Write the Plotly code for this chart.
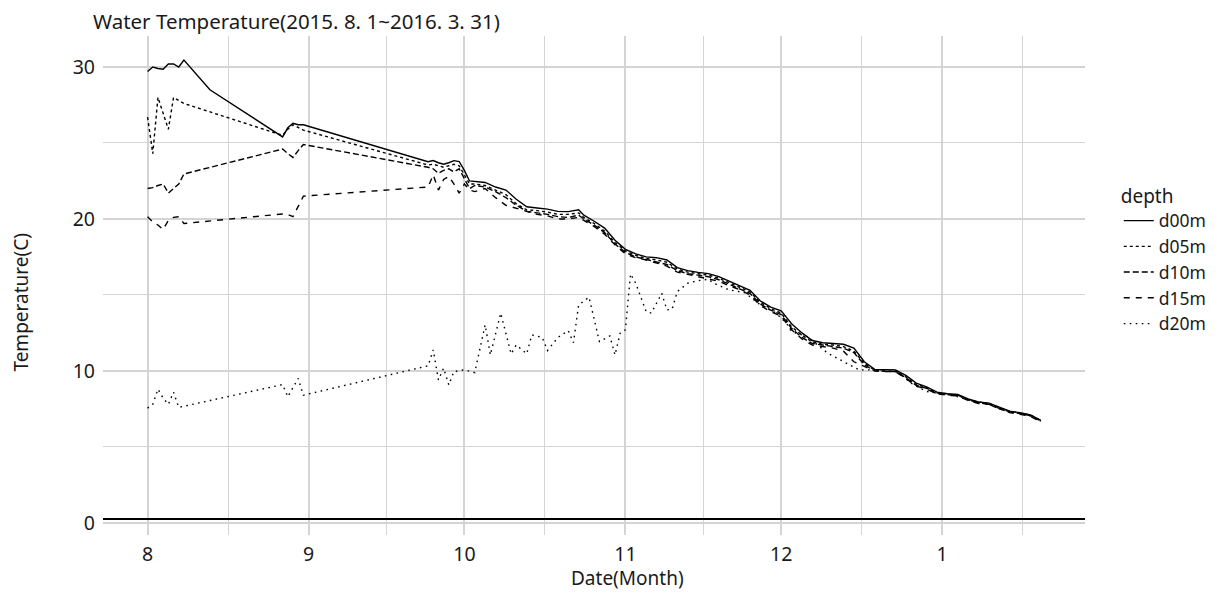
import plotly.graph_objects as go

# ---------------- data ----------------
dates_main = [
    "2015-08-01", "2015-08-02", "2015-08-03", "2015-08-04", "2015-08-05", "2015-08-06", "2015-08-07", "2015-08-08",
    "2015-08-13",
    "2015-08-27", "2015-08-28", "2015-08-29", "2015-08-30", "2015-08-31",
    "2015-09-24", "2015-09-25", "2015-09-26", "2015-09-27", "2015-09-28", "2015-09-29", "2015-09-30",
    "2015-10-01", "2015-10-02", "2015-10-03", "2015-10-05", "2015-10-07", "2015-10-09", "2015-10-11", "2015-10-13",
    "2015-10-15", "2015-10-17", "2015-10-19", "2015-10-21", "2015-10-23", "2015-10-24", "2015-10-26", "2015-10-28",
    "2015-10-30",
    "2015-11-01", "2015-11-03", "2015-11-05", "2015-11-07", "2015-11-09", "2015-11-11", "2015-11-13", "2015-11-15",
    "2015-11-17", "2015-11-19", "2015-11-21", "2015-11-23", "2015-11-25", "2015-11-27", "2015-11-29",
    "2015-12-01", "2015-12-03", "2015-12-05", "2015-12-07", "2015-12-09", "2015-12-11", "2015-12-13", "2015-12-15",
    "2015-12-17", "2015-12-19", "2015-12-21", "2015-12-23", "2015-12-25", "2015-12-27", "2015-12-29", "2015-12-31",
    "2016-01-02", "2016-01-04", "2016-01-06", "2016-01-08", "2016-01-10", "2016-01-12", "2016-01-14", "2016-01-16",
    "2016-01-18", "2016-01-20",
]

d00m = [
    29.7, 30.0, 29.9, 29.85, 30.2, 30.2, 30.0, 30.45,
    28.5,
    25.4, 26.0, 26.3, 26.2, 26.2,
    23.77, 23.84, 23.7, 23.6, 23.7, 23.84, 23.78,
    23.2, 22.5, 22.45, 22.4, 22.1, 21.9, 21.3, 20.8,
    20.72, 20.65, 20.5, 20.48, 20.6, 20.25, 19.85, 19.4,
    18.6,
    18.0, 17.7, 17.5, 17.45, 17.3, 16.8, 16.6, 16.48,
    16.4, 16.2, 15.9, 15.6, 15.3, 14.6, 14.2,
    13.95, 13.1, 12.5, 12.0, 11.85, 11.8, 11.75, 11.5,
    10.6, 10.1, 10.07, 10.07, 9.7, 9.2, 8.95, 8.6,
    8.5, 8.45, 8.15, 7.95, 7.88, 7.6, 7.35, 7.25,
    7.1, 6.75,
]

d05m = [
    26.7, 24.3, 28.0, 27.0, 25.9, 28.0, 27.8, 27.6,
    None,
    25.5, 25.9, 26.2, 26.0, 25.85,
    23.55, 23.6, 23.5, 23.4, 23.5, 23.6, 23.5,
    22.9, 22.3, 22.3, 22.2, 21.9, 21.6, 21.0, 20.6,
    20.55, 20.45, 20.3, 20.3, 20.4, 20.1, 19.7, 19.2,
    18.45,
    17.9, 17.6, 17.4, 17.3, 17.15, 16.7, 16.5, 16.4,
    16.3, 16.1, 15.8, 15.5, 15.2, 14.5, 14.1,
    13.8, 12.9, 12.35, 11.9, 11.75, 11.7, 11.6, 11.3,
    10.5, 10.05, 10.0, 10.0, 9.6, 9.1, 8.9, 8.55,
    8.45, 8.4, 8.1, 7.9, 7.85, 7.55, 7.3, 7.2,
    7.05, 6.7,
]

d10m = [
    22.0, 22.06, 22.2, 22.3, 21.7, 22.0, 22.3, 22.96,
    None,
    24.6, 24.3, 24.05, 24.5, 24.9,
    23.4, 23.3, 23.0, 23.2, 23.3, 23.1, 23.3,
    22.6, 22.0, 22.2, 22.1, 21.8, 21.4, 20.9, 20.5,
    20.4, 20.3, 20.15, 20.1, 20.25, 20.0, 19.6, 19.1,
    18.35,
    17.8, 17.5, 17.35, 17.2, 17.0, 16.6, 16.4, 16.3,
    16.2, 16.0, 15.7, 15.4, 15.1, 14.4, 14.0,
    13.7, 12.8, 12.2, 11.8, 11.7, 11.6, 11.5, 11.2,
    10.4, 10.0, 10.0, 9.95, 9.55, 9.05, 8.85, 8.5,
    8.45, 8.4, 8.1, 7.9, 7.8, 7.5, 7.3, 7.2,
    7.05, 6.7,
]

d15m = [
    20.15, 19.8, 19.6, 19.3, 19.9, 20.1, 20.15, 19.7,
    None,
    20.33, 20.3, 20.15, 20.8, 21.5,
    22.1, 22.9, 21.9, 22.6, 22.8, 22.3, 21.7,
    22.3, 21.9, 21.8, 22.0, 21.4, 20.9, 20.7, 20.5,
    20.3, 20.2, 20.0, 20.0, 20.1, 19.9, 19.5, 19.0,
    18.3,
    17.7, 17.45, 17.3, 17.1, 16.9, 16.5, 16.35, 16.2,
    16.1, 15.9, 15.6, 15.35, 15.0, 14.3, 13.9,
    13.6, 12.7, 12.1, 11.7, 11.6, 11.5, 11.3, 10.6,
    10.3, 10.0, 9.95, 9.95, 9.5, 9.0, 8.8, 8.5,
    8.4, 8.35, 8.05, 7.85, 7.8, 7.5, 7.25, 7.15,
    7.0, 6.65,
]

dates_20 = [
    "2015-08-01", "2015-08-02", "2015-08-03", "2015-08-04", "2015-08-05", "2015-08-06", "2015-08-07",
    "2015-08-27", "2015-08-28", "2015-08-29", "2015-08-30", "2015-08-31",
    "2015-09-24", "2015-09-25", "2015-09-26", "2015-09-27", "2015-09-28", "2015-09-29",
    "2015-10-01", "2015-10-03", "2015-10-05", "2015-10-06", "2015-10-08", "2015-10-10", "2015-10-11",
    "2015-10-13", "2015-10-14", "2015-10-16", "2015-10-17", "2015-10-19", "2015-10-21", "2015-10-22",
    "2015-10-23", "2015-10-25", "2015-10-27", "2015-10-29", "2015-10-30", "2015-10-31",
    "2015-11-01", "2015-11-02", "2015-11-03", "2015-11-05", "2015-11-06", "2015-11-08", "2015-11-09",
    "2015-11-10", "2015-11-11", "2015-11-13", "2015-11-15", "2015-11-17", "2015-11-18", "2015-11-21",
    "2015-11-24", "2015-11-27", "2015-11-30",
    "2015-12-02", "2015-12-03", "2015-12-06", "2015-12-10", "2015-12-13", "2015-12-16", "2015-12-20",
    "2015-12-23", "2015-12-26", "2015-12-29", "2015-12-31",
    "2016-01-02", "2016-01-06", "2016-01-10", "2016-01-14", "2016-01-18", "2016-01-20",
]

d20m = [
    7.55, 7.8, 8.8, 8.2, 7.8, 8.6, 7.6,
    9.1, 8.3, 8.9, 9.5, 8.4,
    10.33, 11.38, 9.41, 10.18, 9.08, 9.96,
    10.07, 9.89, 13.03, 11.05, 13.8, 11.12, 11.71,
    11.12, 12.37, 12.2, 11.34, 12.2, 12.65, 11.86,
    14.34, 14.85, 11.93, 12.3, 11.05, 12.48,
    12.7, 16.38, 15.77, 13.9, 13.8, 15.11, 14.01,
    14.06, 15.22, 15.77, 15.94, 16.03, 15.77, 15.33,
    15.15, 14.34, 13.8,
    13.14, 12.59, 12.26, 11.16, 10.61, 10.07, 10.07,
    10.07, 9.19, 8.64, 8.55,
    8.5, 8.1, 7.85, 7.35, 7.1, 6.75,
]

series_names = ["d00m", "d05m", "d10m", "d15m", "d20m"]
month_ticks = ["2015-08-01", "2015-09-01", "2015-10-01", "2015-11-01", "2015-12-01", "2016-01-01"]
month_labels = ["8", "9", "10", "11", "12", "1"]
minor_ticks = ["2015-08-16 12:00", "2015-09-16", "2015-10-16 12:00", "2015-11-16", "2015-12-16 12:00",
               "2016-01-16 12:00"]
y_ticks = [0, 10, 20, 30]
y_minor = [5, 15, 25]

# ---------------- figure ----------------
# page body adds an 8px offset; the figure is sized so the plot lands on the reference pixels
W, H = 1216, 586
L, R, T, B = 95, 132, 28, 59
PW, PH = W - L - R, H - T - B

dash_styles = ["solid", "3px,3px", "6px,3px", "6px,6px", "1.6px,4.4px"]
xs = [dates_main, dates_main, dates_main, dates_main, dates_20]
ys = [d00m, d05m, d10m, d15m, d20m]

fig = go.Figure()
for name, x, y, dash in zip(series_names, xs, ys, dash_styles):
    fig.add_trace(go.Scatter(
        x=x, y=y, name=name, mode="lines", connectgaps=True,
        line=dict(color="black", width=1.4, dash=dash),
    ))

font_family = "Noto Sans, Open Sans, sans-serif"
grid_col = "#d4d4d4"

fig.update_layout(
    width=W, height=H,
    margin=dict(l=L, r=R, t=T, b=B),
    paper_bgcolor="white", plot_bgcolor="white",
    font=dict(family=font_family, color="#1a1a1a", size=19),
    title=dict(text="Water Temperature(2015. 8. 1~2016. 3. 31)", xref="container", yref="container",
               x=85 / W, xanchor="left", y=1 - 14 / H, yanchor="middle",
               font=dict(size=20.5, color="#1a1a1a")),
    showlegend=True,
    legend=dict(title=dict(text="depth", font=dict(size=19)), font=dict(size=17.5),
                x=(1126 - 8 - L) / PW, xanchor="left", y=(527 - 252) / PH, yanchor="middle",
                bgcolor="rgba(0,0,0,0)", tracegroupgap=0, itemwidth=30),
    xaxis=dict(type="date", range=["2015-07-23 10:00", "2016-01-28 12:00"],
               tickvals=month_ticks, ticktext=month_labels, ticks="",
               showgrid=True, gridcolor=grid_col, gridwidth=1.5, zeroline=False, showline=False,
               tickfont=dict(size=19.5), ticklabelstandoff=5,
               minor=dict(tickvals=minor_ticks, showgrid=True, gridcolor=grid_col, gridwidth=1.2)),
    yaxis=dict(range=[-0.8, 32.04], tickvals=y_ticks, ticks="",
               showgrid=True, gridcolor=grid_col, gridwidth=1.5, zeroline=False, showline=False,
               tickfont=dict(size=19.5), ticklabelstandoff=7,
               minor=dict(tickvals=y_minor, showgrid=True, gridcolor=grid_col, gridwidth=1.2)),
)

fig.add_shape(type="line", xref="paper", yref="y", x0=0, x1=1, y0=0.25, y1=0.25,
              line=dict(color="black", width=2))

fig.add_annotation(text="Date(Month)", xref="paper", yref="paper",
                   x=(631 - 8 - L) / PW, xanchor="center", y=-(578 - 535) / PH, yanchor="middle",
                   showarrow=False, font=dict(size=19))
fig.add_annotation(text="Temperature(C)", xref="paper", yref="paper", textangle=-90,
                   x=-(103 - 20) / PW, xanchor="center", y=(535 - 303) / PH, yanchor="middle",
                   showarrow=False, font=dict(size=19))

fig.write_html("out.html")
